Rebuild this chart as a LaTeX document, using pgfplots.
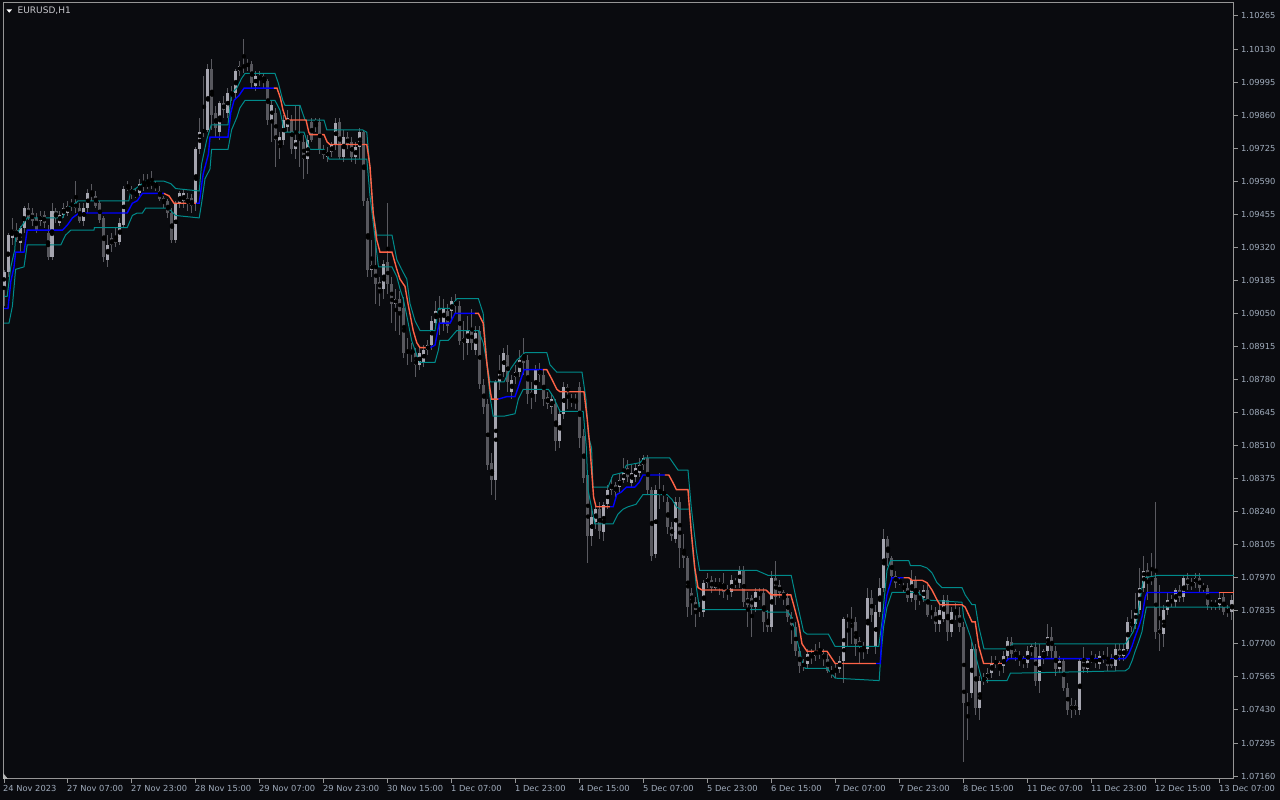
\documentclass[border=0pt]{standalone}
\usepackage{fontspec}
\setmainfont{DejaVu Sans}
\usepackage{pgfplots}
\usepackage{pgfplotstable}
\pgfplotsset{compat=1.18}

\definecolor{bgc}{RGB}{10,11,15}
\definecolor{framec}{RGB}{150,150,150}
\definecolor{labc}{RGB}{160,172,188}
\definecolor{titc}{RGB}{200,200,205}
\definecolor{bullc}{RGB}{165,165,175}
\definecolor{bearc}{RGB}{88,88,94}
\definecolor{wickc}{RGB}{90,90,96}
\definecolor{bandc}{RGB}{0,139,139}
\definecolor{upc}{RGB}{0,0,255}
\definecolor{dnc}{RGB}{255,99,71}

% EURUSD H1 bars: index, open, high, low, close
\pgfplotstableread{
i o h l c
0 1.0916 1.0923 1.0908 1.0922
1 1.0922 1.0938 1.0920 1.0937
2 1.0936 1.0944 1.0933 1.0939
3 1.0939 1.0942 1.0934 1.0935
4 1.0934 1.0941 1.0930 1.0940
5 1.0940 1.0949 1.0938 1.0948
6 1.0948 1.0950 1.0943 1.0944
7 1.0946 1.0948 1.0941 1.0943
8 1.0944 1.0946 1.0938 1.0939
9 1.0943 1.0947 1.0941 1.0945
10 1.0945 1.0947 1.0940 1.0942
11 1.0938 1.0941 1.0927 1.0928
12 1.0928 1.0950 1.0927 1.0947
13 1.0947 1.0948 1.0942 1.0944
14 1.0942 1.0947 1.0941 1.0945
15 1.0945 1.0950 1.0944 1.0948
16 1.0946 1.0951 1.0945 1.0949
17 1.0949 1.0952 1.0947 1.0950
18 1.0950 1.0959 1.0946 1.0948
19 1.0948 1.0950 1.0942 1.0943
20 1.0943 1.0950 1.0941 1.0948
21 1.0948 1.0956 1.0946 1.0954
22 1.0954 1.0958 1.0951 1.0953
23 1.0953 1.0955 1.0948 1.0949
24 1.0950 1.0951 1.0942 1.0943
25 1.0944 1.0945 1.0926 1.0928
26 1.0927 1.0937 1.0924 1.0933
27 1.0936 1.0938 1.0930 1.0933
28 1.0936 1.0940 1.0932 1.0934
29 1.0934 1.0944 1.0933 1.0942
30 1.0941 1.0957 1.0940 1.0956
31 1.0956 1.0959 1.0955 1.0957
32 1.0956 1.0957 1.0952 1.0954
33 1.0953 1.0956 1.0952 1.0954
34 1.0954 1.0960 1.0953 1.0958
35 1.0958 1.0962 1.0955 1.0957
36 1.0957 1.0962 1.0956 1.0958
37 1.0958 1.0963 1.0956 1.0958
38 1.0958 1.0959 1.0955 1.0957
39 1.0955 1.0957 1.0951 1.0952
40 1.0952 1.0953 1.0948 1.0950
41 1.0951 1.0952 1.0944 1.0946
42 1.0946 1.0948 1.0934 1.0935
43 1.0935 1.0951 1.0934 1.0950
44 1.0950 1.0955 1.0948 1.0954
45 1.0951 1.0956 1.0948 1.0954
46 1.0952 1.0954 1.0947 1.0950
47 1.0952 1.0954 1.0946 1.0949
48 1.0950 1.0973 1.0947 1.0972
49 1.0972 1.0985 1.0970 1.0979
50 1.0979 1.1002 1.0977 1.0980
51 1.0980 1.1007 1.0979 1.1005
52 1.1005 1.1009 1.0980 1.0986
53 1.0987 1.0990 1.0977 1.0981
54 1.0979 1.0992 1.0976 1.0991
55 1.0991 1.0994 1.0985 1.0988
56 1.0987 1.0997 1.0985 1.0995
57 1.0994 1.0998 1.0992 1.0995
58 1.0995 1.1005 1.0993 1.1004
59 1.1004 1.1008 1.1002 1.1006
60 1.1006 1.1017 1.1003 1.1006
61 1.1006 1.1009 1.1004 1.1007
62 1.1007 1.1008 1.0997 1.0999
63 1.0998 1.1004 1.0996 1.1002
64 1.1002 1.1004 1.0998 1.1001
65 1.1002 1.1003 1.0997 1.1000
66 1.1000 1.1001 1.0982 1.0984
67 1.0984 1.0992 1.0975 1.0990
68 1.0987 1.0989 1.0965 1.0976
69 1.0973 1.0979 1.0968 1.0977
70 1.0976 1.0986 1.0974 1.0984
71 1.0981 1.0988 1.0979 1.0985
72 1.0984 1.0986 1.0970 1.0972
73 1.0972 1.0990 1.0968 1.0976
74 1.0977 1.0990 1.0965 1.0976
75 1.0975 1.0978 1.0960 1.0968
76 1.0968 1.0978 1.0962 1.0976
77 1.0983 1.0985 1.0975 1.0976
78 1.0984 1.0985 1.0979 1.0982
79 1.0983 1.0985 1.0970 1.0972
80 1.0972 1.0974 1.0968 1.0970
81 1.0969 1.0973 1.0967 1.0971
82 1.0971 1.0975 1.0969 1.0974
83 1.0974 1.0985 1.0972 1.0983
84 1.0983 1.0985 1.0968 1.0969
85 1.0969 1.0980 1.0967 1.0977
86 1.0977 1.0979 1.0972 1.0974
87 1.0975 1.0977 1.0967 1.0969
88 1.0969 1.0975 1.0966 1.0973
89 1.0973 1.0981 1.0968 1.0979
90 1.0979 1.0980 1.0949 1.0951
91 1.0951 1.0952 1.0920 1.0923
92 1.0923 1.0935 1.0920 1.0925
93 1.0924 1.0939 1.0909 1.0917
94 1.0918 1.0920 1.0908 1.0915
95 1.0915 1.0927 1.0911 1.0925
96 1.0926 1.0950 1.0913 1.0917
97 1.0917 1.0920 1.0901 1.0909
98 1.0909 1.0915 1.0898 1.0911
99 1.0911 1.0914 1.0896 1.0906
100 1.0907 1.0912 1.0887 1.0889
101 1.0890 1.0895 1.0884 1.0889
102 1.0889 1.0893 1.0885 1.0890
103 1.0889 1.0891 1.0879 1.0884
104 1.0884 1.0891 1.0882 1.0889
105 1.0885 1.0892 1.0883 1.0890
106 1.0890 1.0894 1.0888 1.0892
107 1.0892 1.0904 1.0890 1.0902
108 1.0901 1.0910 1.0899 1.0906
109 1.0907 1.0912 1.0896 1.0904
110 1.0901 1.0911 1.0898 1.0907
111 1.0906 1.0909 1.0897 1.0900
112 1.0906 1.0912 1.0903 1.0910
113 1.0910 1.0913 1.0905 1.0908
114 1.0908 1.0910 1.0892 1.0894
115 1.0895 1.0902 1.0886 1.0893
116 1.0893 1.0904 1.0888 1.0898
117 1.0898 1.0907 1.0890 1.0893
118 1.0890 1.0900 1.0888 1.0897
119 1.0898 1.0900 1.0874 1.0876
120 1.0876 1.0878 1.0864 1.0867
121 1.0868 1.0870 1.0841 1.0843
122 1.0844 1.0848 1.0831 1.0837
123 1.0837 1.0878 1.0829 1.0877
124 1.0877 1.0888 1.0874 1.0881
125 1.0881 1.0891 1.0879 1.0889
126 1.0888 1.0892 1.0873 1.0877
127 1.0873 1.0880 1.0870 1.0878
128 1.0879 1.0884 1.0876 1.0881
129 1.0881 1.0890 1.0879 1.0886
130 1.0888 1.0895 1.0880 1.0885
131 1.0886 1.0888 1.0868 1.0872
132 1.0873 1.0877 1.0866 1.0871
133 1.0872 1.0884 1.0869 1.0882
134 1.0882 1.0885 1.0877 1.0880
135 1.0880 1.0882 1.0867 1.0870
136 1.0871 1.0873 1.0866 1.0868
137 1.0867 1.0872 1.0864 1.0870
138 1.0868 1.0870 1.0849 1.0853
139 1.0853 1.0866 1.0850 1.0864
140 1.0864 1.0877 1.0862 1.0875
141 1.0875 1.0876 1.0866 1.0873
142 1.0869 1.0872 1.0867 1.0870
143 1.0870 1.0872 1.0866 1.0869
144 1.0875 1.0877 1.0850 1.0854
145 1.0855 1.0858 1.0836 1.0838
146 1.0839 1.0841 1.0803 1.0814
147 1.0814 1.0826 1.0810 1.0822
148 1.0820 1.0827 1.0817 1.0825
149 1.0825 1.0828 1.0813 1.0816
150 1.0816 1.0828 1.0812 1.0827
151 1.0827 1.0835 1.0825 1.0833
152 1.0833 1.0838 1.0831 1.0835
153 1.0835 1.0836 1.0830 1.0832
154 1.0834 1.0840 1.0832 1.0837
155 1.0837 1.0846 1.0836 1.0840
156 1.0842 1.0845 1.0836 1.0838
157 1.0836 1.0843 1.0834 1.0840
158 1.0838 1.0844 1.0836 1.0842
159 1.0840 1.0846 1.0838 1.0843
160 1.0843 1.0847 1.0841 1.0846
161 1.0846 1.0847 1.0831 1.0833
162 1.0833 1.0834 1.0804 1.0806
163 1.0807 1.0835 1.0805 1.0833
164 1.0833 1.0840 1.0825 1.0831
165 1.0831 1.0835 1.0828 1.0832
166 1.0828 1.0830 1.0815 1.0818
167 1.0818 1.0820 1.0812 1.0814
168 1.0813 1.0830 1.0811 1.0828
169 1.0828 1.0830 1.0801 1.0809
170 1.0809 1.0815 1.0801 1.0805
171 1.0805 1.0806 1.0781 1.0785
172 1.0791 1.0793 1.0782 1.0787
173 1.0787 1.0789 1.0777 1.0784
174 1.0784 1.0787 1.0781 1.0784
175 1.0783 1.0796 1.0781 1.0795
176 1.0795 1.0799 1.0793 1.0797
177 1.0796 1.0798 1.0791 1.0793
178 1.0793 1.0797 1.0792 1.0795
179 1.0794 1.0797 1.0790 1.0795
180 1.0795 1.0799 1.0789 1.0791
181 1.0792 1.0794 1.0788 1.0791
182 1.0791 1.0798 1.0789 1.0796
183 1.0795 1.0797 1.0793 1.0795
184 1.0795 1.0802 1.0793 1.0800
185 1.0800 1.0802 1.0785 1.0787
186 1.0789 1.0791 1.0777 1.0786
187 1.0789 1.0790 1.0773 1.0785
188 1.0785 1.0793 1.0783 1.0791
189 1.0791 1.0793 1.0788 1.0790
190 1.0791 1.0793 1.0775 1.0779
191 1.0780 1.0784 1.0775 1.0777
192 1.0777 1.0800 1.0775 1.0797
193 1.0797 1.0804 1.0786 1.0789
194 1.0794 1.0796 1.0789 1.0791
195 1.0791 1.0792 1.0786 1.0789
196 1.0789 1.0791 1.0779 1.0781
197 1.0781 1.0783 1.0770 1.0778
198 1.0777 1.0779 1.0765 1.0767
199 1.0767 1.0769 1.0758 1.0761
200 1.0761 1.0764 1.0759 1.0762
201 1.0762 1.0768 1.0760 1.0766
202 1.0766 1.0768 1.0762 1.0765
203 1.0765 1.0770 1.0763 1.0767
204 1.0767 1.0771 1.0764 1.0766
205 1.0766 1.0768 1.0761 1.0764
206 1.0764 1.0766 1.0758 1.0759
207 1.0758 1.0761 1.0756 1.0759
208 1.0760 1.0762 1.0756 1.0759
209 1.0760 1.0765 1.0758 1.0763
210 1.0763 1.0781 1.0754 1.0780
211 1.0780 1.0782 1.0769 1.0780
212 1.0780 1.0785 1.0770 1.0779
213 1.0779 1.0781 1.0765 1.0770
214 1.0771 1.0773 1.0762 1.0769
215 1.0769 1.0771 1.0764 1.0768
216 1.0768 1.0793 1.0766 1.0789
217 1.0789 1.0792 1.0779 1.0782
218 1.0769 1.0786 1.0766 1.0783
219 1.0783 1.0797 1.0781 1.0793
220 1.0793 1.0817 1.0791 1.0813
221 1.0813 1.0814 1.0802 1.0805
222 1.0805 1.0806 1.0796 1.0798
223 1.0798 1.0800 1.0793 1.0795
224 1.0795 1.0797 1.0794 1.0796
225 1.0793 1.0795 1.0791 1.0793
226 1.0793 1.0795 1.0787 1.0789
227 1.0789 1.0800 1.0787 1.0796
228 1.0796 1.0798 1.0784 1.0788
229 1.0788 1.0792 1.0786 1.0789
230 1.0789 1.0794 1.0787 1.0792
231 1.0792 1.0794 1.0781 1.0782
232 1.0783 1.0786 1.0780 1.0782
233 1.0783 1.0785 1.0775 1.0778
234 1.0778 1.0786 1.0775 1.0784
235 1.0780 1.0790 1.0779 1.0788
236 1.0788 1.0790 1.0771 1.0775
237 1.0775 1.0785 1.0773 1.0783
238 1.0783 1.0787 1.0780 1.0782
239 1.0782 1.0785 1.0775 1.0777
240 1.0777 1.0779 1.0722 1.0746
241 1.0746 1.0750 1.0731 1.0745
242 1.0750 1.0771 1.0748 1.0768
243 1.0768 1.0770 1.0741 1.0744
244 1.0744 1.0757 1.0739 1.0755
245 1.0755 1.0758 1.0753 1.0756
246 1.0756 1.0760 1.0754 1.0758
247 1.0758 1.0765 1.0756 1.0762
248 1.0763 1.0765 1.0760 1.0762
249 1.0762 1.0763 1.0757 1.0760
250 1.0761 1.0767 1.0758 1.0765
251 1.0765 1.0773 1.0764 1.0771
252 1.0771 1.0773 1.0764 1.0766
253 1.0767 1.0768 1.0763 1.0765
254 1.0765 1.0767 1.0761 1.0764
255 1.0764 1.0765 1.0760 1.0762
256 1.0762 1.0769 1.0760 1.0767
257 1.0767 1.0770 1.0765 1.0769
258 1.0769 1.0771 1.0753 1.0755
259 1.0755 1.0770 1.0750 1.0765
260 1.0765 1.0768 1.0762 1.0767
261 1.0767 1.0778 1.0765 1.0773
262 1.0773 1.0777 1.0764 1.0767
263 1.0767 1.0769 1.0757 1.0760
264 1.0760 1.0765 1.0758 1.0763
265 1.0763 1.0764 1.0751 1.0752
266 1.0752 1.0754 1.0741 1.0743
267 1.0745 1.0748 1.0740 1.0743
268 1.0745 1.0747 1.0741 1.0743
269 1.0743 1.0764 1.0741 1.0763
270 1.0763 1.0769 1.0758 1.0760
271 1.0760 1.0764 1.0758 1.0763
272 1.0763 1.0767 1.0762 1.0764
273 1.0764 1.0766 1.0760 1.0762
274 1.0762 1.0767 1.0760 1.0765
275 1.0765 1.0767 1.0762 1.0764
276 1.0764 1.0769 1.0759 1.0761
277 1.0764 1.0766 1.0760 1.0761
278 1.0761 1.0770 1.0759 1.0768
279 1.0768 1.0770 1.0763 1.0765
280 1.0765 1.0770 1.0763 1.0768
281 1.0768 1.0781 1.0767 1.0779
282 1.0779 1.0784 1.0775 1.0777
283 1.0778 1.0791 1.0776 1.0784
284 1.0784 1.0801 1.0782 1.0793
285 1.0793 1.0806 1.0791 1.0800
286 1.0800 1.0803 1.0788 1.0797
287 1.0796 1.0807 1.0794 1.0797
288 1.0797 1.0828 1.0772 1.0775
289 1.0776 1.0794 1.0767 1.0774
290 1.0774 1.0786 1.0769 1.0784
291 1.0784 1.0791 1.0782 1.0788
292 1.0788 1.0790 1.0785 1.0787
293 1.0787 1.0793 1.0785 1.0792
294 1.0792 1.0794 1.0787 1.0789
295 1.0789 1.0798 1.0787 1.0797
296 1.0797 1.0799 1.0792 1.0794
297 1.0794 1.0797 1.0792 1.0795
298 1.0795 1.0799 1.0793 1.0797
299 1.0797 1.0799 1.0791 1.0793
300 1.0793 1.0795 1.0791 1.0793
301 1.0793 1.0794 1.0784 1.0786
302 1.0787 1.0788 1.0784 1.0786
303 1.0786 1.0788 1.0784 1.0786
304 1.0786 1.0791 1.0784 1.0789
305 1.0789 1.0791 1.0782 1.0783
306 1.0784 1.0786 1.0781 1.0783
307 1.0783 1.0790 1.0780 1.0788
}\candles

\pgfplotsset{
  candle/.style 2 args={only marks, mark=none,
    error bars/.cd, y dir=both, y explicit, error mark=none,
    error bar style={line width=#1, #2}},
}

\begin{document}
\begin{tikzpicture}
\useasboundingbox (0pt,0pt) rectangle (1280pt,800pt);
\fill[bgc] (0pt,0pt) rectangle (1280pt,800pt);
\begin{axis}[
  at={(3pt,21pt)}, anchor=south west,
  scale only axis, width=1231pt, height=776pt,
  xmin=-0.25, xmax=307.5,
  ymin=1.07148, ymax=1.10318,
  axis line style={framec, line width=1pt},
  tick style={framec, line width=1pt},
  tick align=outside, major tick length=4pt,
  xtick pos=bottom, ytick pos=right,
  yticklabel pos=right,
  xtick={0,16,...,304},
  xticklabels={24 Nov 2023, 27 Nov 07:00, 27 Nov 23:00, 28 Nov 15:00, 29 Nov 07:00, 29 Nov 23:00, 30 Nov 15:00, 1 Dec 07:00, 1 Dec 23:00, 4 Dec 15:00, 5 Dec 07:00, 5 Dec 23:00, 6 Dec 15:00, 7 Dec 07:00, 7 Dec 23:00, 8 Dec 15:00, 11 Dec 07:00, 11 Dec 23:00, 12 Dec 15:00, 13 Dec 07:00},
  ytick={1.07160,1.07295,1.07430,1.07565,1.07700,1.07835,1.07970,1.08105,1.08240,1.08375,1.08510,1.08645,1.08780,1.08915,1.09050,1.09185,1.09320,1.09455,1.09590,1.09725,1.09860,1.09995,1.10130,1.10265},
  yticklabels={1.07160,1.07295,1.07430,1.07565,1.07700,1.07835,1.07970,1.08105,1.08240,1.08375,1.08510,1.08645,1.08780,1.08915,1.09050,1.09185,1.09320,1.09455,1.09590,1.09725,1.09860,1.09995,1.10130,1.10265},
  ticklabel style={font=\fontsize{8.3}{10}\selectfont, text=labc, inner sep=0pt},
  xticklabel style={anchor=north west, xshift=-1pt, yshift=-2pt},
  yticklabel style={anchor=west, xshift=3pt},
  scaled y ticks=false,
]
% wicks
\addplot[candle={1pt}{wickc}]
  table[x=i, y expr={(\thisrow{h}+\thisrow{l})/2}, y error expr={(\thisrow{h}-\thisrow{l})/2}] {\candles};
% bear bodies
\addplot[candle={3pt}{bearc}]
  table[x=i, y expr={\thisrow{c}<\thisrow{o} ? (\thisrow{o}+\thisrow{c})/2 : nan},
        y error expr={max(abs(\thisrow{c}-\thisrow{o})/2,0.000013)}] {\candles};
% bull bodies
\addplot[candle={3pt}{bullc}]
  table[x=i, y expr={\thisrow{c}>=\thisrow{o} ? (\thisrow{o}+\thisrow{c})/2 : nan},
        y error expr={max(abs(\thisrow{c}-\thisrow{o})/2,0.000013)}] {\candles};

% upper band
\addplot[bandc, line width=1pt] coordinates {
(0,1.0912) (0.8,1.0912) (1.7,1.0924) (2.7,1.0931) (2.9,1.0937) (5.8,1.0944) (14.6,1.0944) (15.8,1.0948) (17.9,1.0950) (18.5,1.0951) (31.2,1.0951) (31.7,1.0955) (32.9,1.0956) (34.6,1.0958) (35.4,1.0959) (40,1.0959) (41.7,1.0958) (42.9,1.0956) (48.8,1.0955) (49.4,1.0966) (50.7,1.0976) (51.8,1.0982) (56,1.0982) (56.9,1.0995) (58.2,1.0997) (59.4,1.1001) (60.25,1.1003) (67.75,1.1003) (68.6,1.0999) (69.7,1.0992) (70.25,1.0990) (74,1.0990) (75.25,1.0984) (80,1.0984) (80.7,1.0980) (89.6,1.0980) (90.7,1.0979) (91.5,1.0964) (92.3,1.0946) (93.2,1.0937) (97,1.0937) (98.2,1.0927) (99.4,1.0923) (100.7,1.0919) (101.5,1.0909) (102.75,1.0902) (104,1.0898) (107.75,1.0898) (108.6,1.0907) (111.5,1.0907) (113.2,1.0911) (118.6,1.0911) (119.8,1.0905) (120.7,1.0885) (121.5,1.0877) (125,1.0877) (126.5,1.0882) (128.25,1.0886) (130.25,1.0889) (135.7,1.0889) (136.5,1.0884) (138.2,1.0881) (144.5,1.0881) (145.5,1.0870) (146.1,1.0855) (146.9,1.0850) (147.25,1.0834) (151,1.0834) (152.25,1.0839) (154.75,1.0840) (155.6,1.0843) (159,1.0844) (160.2,1.0846) (166.4,1.0846) (168.5,1.0841) (171,1.0841) (171.8,1.0826) (173.1,1.0808) (173.9,1.0800) (188.2,1.0800) (191,1.0798) (196.8,1.0798) (198.1,1.0788) (199.9,1.0775) (200.75,1.0774) (206.1,1.0774) (207.75,1.0769) (218.7,1.0769) (219.5,1.0779) (220.75,1.0800) (221.6,1.0804) (226.2,1.0804) (226.6,1.0802) (229.1,1.0802) (230.75,1.0801) (232,1.0799) (233.25,1.0795) (234.5,1.0793) (239.5,1.0793) (240.3,1.0790) (242,1.0786) (242.8,1.0786) (243.7,1.0777) (245,1.0768) (251.2,1.0768) (252.2,1.0770) (280.3,1.0770) (281.2,1.0772) (282.3,1.0775) (283.25,1.0780) (284.5,1.0793) (285,1.0797) (288.6,1.0798) (307.5,1.0798)
};
% lower band
\addplot[bandc, line width=1pt] coordinates {
(0,1.0901) (1.25,1.0901) (2.1,1.0908) (2.9,1.0923) (5,1.0924) (5.8,1.0933) (14.2,1.0933) (15.4,1.0937) (16.7,1.0939) (22.5,1.0939) (22.6,1.0940) (30.8,1.0940) (32.1,1.0945) (33.3,1.0946) (34.6,1.0946) (35.4,1.0948) (40.8,1.0948) (41.7,1.0947) (42.9,1.0945) (48.8,1.0944) (49.4,1.0950) (50.25,1.0960) (51.5,1.0964) (51.9,1.0972) (56,1.0972) (56.9,1.0980) (58.2,1.0985) (59,1.0989) (60.25,1.0992) (67.75,1.0992) (69,1.0988) (69.75,1.0982) (70.25,1.0979) (75,1.0979) (75.8,1.0975) (76.5,1.0972) (80,1.0972) (81.25,1.0968) (90.7,1.0968) (91.5,1.0953) (92.75,1.0936) (93.6,1.0924) (97,1.0924) (98.2,1.0920) (99,1.0915) (99.8,1.0911) (100.7,1.0904) (101.9,1.0894) (103.2,1.0888) (104,1.0885) (107.75,1.0885) (108.6,1.0890) (109,1.0894) (111.1,1.0894) (113.2,1.0898) (118.6,1.0898) (119.8,1.0893) (120.7,1.0885) (121.5,1.0871) (122.3,1.0863) (125,1.0863) (127.75,1.0864) (128.6,1.0870) (129.8,1.0874) (136.1,1.0874) (137.3,1.0871) (139,1.0865) (144.8,1.0865) (145.6,1.0850) (146,1.0833) (147.7,1.0819) (152.25,1.0819) (153.5,1.0823) (154.75,1.0825) (156,1.0826) (158,1.0827) (159.75,1.0831) (165.75,1.0831) (167,1.0829) (168.1,1.0826) (169,1.0825) (171.4,1.0825) (172.25,1.0807) (173.1,1.0793) (173.9,1.0784) (189.75,1.0784) (191,1.0783) (196,1.0783) (196.8,1.0781) (197.8,1.0775) (199.5,1.0763) (200.3,1.0760) (205.75,1.0760) (207.8,1.0756) (218.8,1.0755) (219.1,1.0763) (219.9,1.0777) (220.75,1.0785) (222,1.0791) (228.7,1.0791) (229.9,1.0788) (239.5,1.0787) (239.9,1.0781) (241.6,1.0773) (243.25,1.0763) (244.5,1.0755) (250.75,1.0755) (251.6,1.0758) (280.3,1.0759) (281.2,1.0760) (282,1.0763) (282.8,1.0767) (283.7,1.0771) (284.5,1.0775) (285.1,1.0781) (285.6,1.0785) (307.5,1.0785)
};

% middle line, rising legs
\addplot[upc, line width=1.4pt] coordinates {
(0,1.0907) (1,1.0907) (1.7,1.0918) (2.5,1.0924) (2.9,1.0930) (5,1.0930) (5.8,1.0939) (14.6,1.0939) (15.8,1.0941) (17.1,1.0944) (18.75,1.0946) (30.8,1.0946) (32.1,1.0950) (33.3,1.0951) (34.6,1.0954) (40,1.0954)
};
\addplot[upc, line width=1.4pt] coordinates {
(48,1.0950) (48.8,1.0950) (49.8,1.0962) (51.1,1.0970) (51.5,1.0977) (56,1.0977) (56.7,1.0987) (57.5,1.0992) (58.75,1.0994) (60,1.0997) (67.5,1.0997)
};
\addplot[upc, line width=1.4pt] coordinates {
(106.5,1.0891) (107.75,1.0892) (108.2,1.0896) (108.8,1.0901) (111.5,1.0901) (112.75,1.0905) (117.75,1.0905)
};
\addplot[upc, line width=1.4pt] coordinates {
(123.6,1.0870) (125.7,1.0871) (127.75,1.0871) (128.6,1.0875) (129.4,1.0879) (130,1.0882) (134.7,1.0882)
};
\addplot[upc, line width=1.4pt] coordinates {
(151.5,1.0826) (152.3,1.0826) (153.2,1.0831) (154.3,1.0832) (155.6,1.0834) (157.7,1.0834) (158.8,1.0836) (159.75,1.0839) (165.2,1.0839)
};
\addplot[upc, line width=1.4pt] coordinates {
(218,1.0762) (219.1,1.0762) (219.5,1.0776) (220.75,1.0790) (222,1.0797) (224.9,1.0797)
};
\addplot[upc, line width=1.4pt] coordinates {
(249.5,1.0762) (250,1.0762) (251.2,1.0764) (252,1.0764) (280.3,1.0764) (281.2,1.0766) (282,1.0769) (282.8,1.0773) (283.7,1.0777) (284.5,1.0781) (285.3,1.0789) (285.75,1.0791) (303.7,1.0791)
};
% middle line, falling legs
\addplot[dnc, line width=1.4pt] coordinates {
(40,1.0954) (41.25,1.0953) (42.5,1.0950) (48,1.0950)
};
\addplot[dnc, line width=1.4pt] coordinates {
(67.5,1.0997) (68.25,1.0997) (69.1,1.0993) (69.75,1.0988) (70.6,1.0984) (75.5,1.0984) (76.2,1.0979) (76.5,1.0978) (80,1.0978) (80.8,1.0975) (81.5,1.0974) (90.7,1.0974) (91.5,1.0965) (92.3,1.0946) (93.2,1.0935) (94,1.0930) (97,1.0930) (98.2,1.0923) (99,1.0919) (100.25,1.0916) (101,1.0909) (102.3,1.0898) (103.2,1.0893) (104,1.0891) (106.5,1.0891)
};
\addplot[dnc, line width=1.4pt] coordinates {
(117.75,1.0905) (118.6,1.0905) (119.8,1.0901) (120.7,1.0885) (121.5,1.0874) (121.9,1.0870) (123.6,1.0870)
};
\addplot[dnc, line width=1.4pt] coordinates {
(134.7,1.0882) (135.7,1.0882) (137,1.0878) (138.2,1.0874) (139,1.0873) (145,1.0873) (145.8,1.0862) (146.5,1.0850) (147.4,1.0830) (148,1.0826) (151.5,1.0826)
};
\addplot[dnc, line width=1.4pt] coordinates {
(165.2,1.0839) (166.2,1.0839) (167.2,1.0836) (168.1,1.0833) (171,1.0833) (171.8,1.0816) (172.7,1.0801) (173.5,1.0793) (174.5,1.0792) (190.5,1.0792) (191.8,1.0790) (196.7,1.0790) (197.4,1.0786) (198.7,1.0778) (199.5,1.0770) (200.75,1.0767) (205.75,1.0767) (207.8,1.0762) (218,1.0762)
};
\addplot[dnc, line width=1.4pt] coordinates {
(224.9,1.0797) (226.2,1.0797) (227,1.0796) (229.5,1.0796) (230.75,1.0795) (232,1.0792) (233.25,1.0788) (234,1.0786) (239.5,1.0786) (240.3,1.0785) (242,1.0779) (242.8,1.0779) (243.7,1.0769) (244.9,1.0762) (249.5,1.0762)
};
\addplot[dnc, line width=1.4pt] coordinates {
(303.7,1.0791) (307.5,1.0791)
};
\end{axis}
% symbol header and shift marker
\fill[white] (6.5pt,790.5pt) -- (12pt,790.5pt) -- (9.25pt,787.3pt) -- cycle;
\node[anchor=west, inner sep=0pt, text=titc, font=\fontsize{9}{11}\selectfont] at (17.5pt,789pt) {EURUSD,H1};
\fill[framec!70] (3pt,21pt) -- (3pt,27pt) -- (8pt,21pt) -- cycle;
\end{tikzpicture}
\end{document}
